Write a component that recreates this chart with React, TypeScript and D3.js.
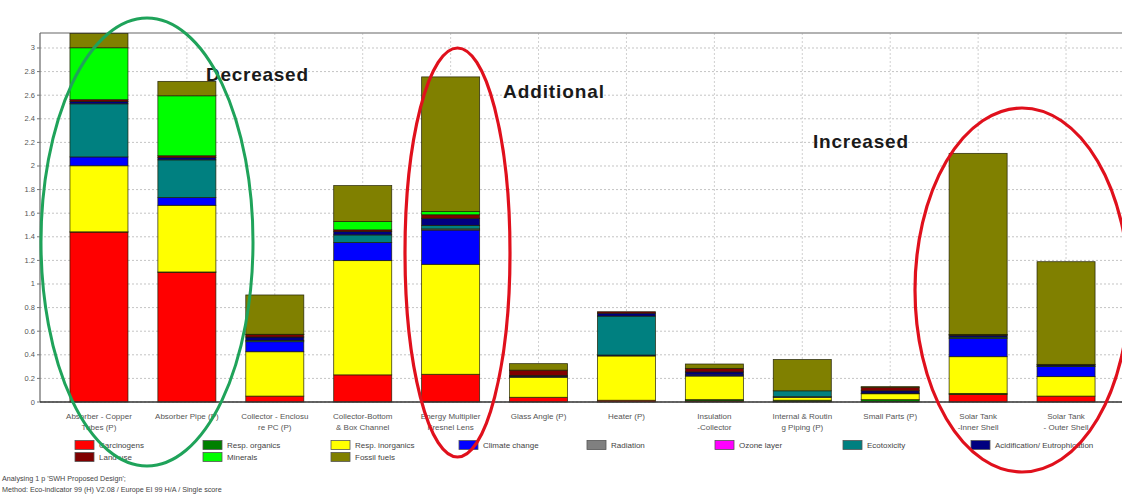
import React from "react";
import * as d3 from "d3";

const categories: string[][] = [
  ["Absorber - Copper", "Tubes (P)"],
  ["Absorber Pipe (P)"],
  ["Collector - Enclosu", "re PC (P)"],
  ["Collector-Bottom", "& Box Channel"],
  ["Energy Multiplier", "Fresnel Lens"],
  ["Glass Angle (P)"],
  ["Heater (P)"],
  ["Insulation", "-Collector"],
  ["Internal & Routin", "g Piping (P)"],
  ["Small Parts (P)"],
  ["Solar Tank", "-Inner Shell"],
  ["Solar Tank", "- Outer Shell"],
];

const seriesNames = [
  "Carcinogens",
  "Resp. organics",
  "Resp. inorganics",
  "Climate change",
  "Radiation",
  "Ozone layer",
  "Ecotoxicity",
  "Acidification/ Eutrophication",
  "Land use",
  "Minerals",
  "Fossil fuels",
];

const seriesColors = [
  "#ff0000",
  "#008000",
  "#ffff00",
  "#0000ff",
  "#808080",
  "#ff00ff",
  "#008080",
  "#000080",
  "#800000",
  "#00ff00",
  "#808000",
];

const carcinogens = [1.44, 1.1, 0.05, 0.23, 0.235, 0.04, 0.015, 0.01, 0.005, 0.005, 0.065, 0.05];
const respOrganics = [0.002, 0.002, 0, 0, 0, 0, 0, 0.01, 0.01, 0.015, 0.008, 0];
const respInorganics = [0.56, 0.565, 0.376, 0.968, 0.932, 0.17, 0.375, 0.2, 0.025, 0.05, 0.311, 0.165];
const climateChange = [0.075, 0.065, 0.085, 0.153, 0.29, 0.005, 0.008, 0.01, 0.005, 0.005, 0.156, 0.085];
const radiation = [0, 0, 0, 0, 0.01, 0, 0, 0, 0, 0, 0, 0];
const ozoneLayer = [0, 0, 0, 0, 0, 0, 0, 0, 0, 0, 0, 0];
const ecotoxicity = [0.45, 0.32, 0.01, 0.065, 0.03, 0, 0.33, 0, 0.05, 0, 0.01, 0.005];
const acidification = [0.02, 0.02, 0.03, 0.028, 0.06, 0.01, 0.025, 0.025, 0, 0.02, 0.015, 0.01];
const landUse = [0.015, 0.015, 0.02, 0.015, 0.03, 0.045, 0.012, 0.03, 0, 0.03, 0.005, 0.004];
const minerals = [0.44, 0.508, 0.003, 0.07, 0.028, 0, 0, 0, 0, 0, 0.003, 0];
const fossilFuels = [0.12, 0.122, 0.333, 0.305, 1.14, 0.055, 0, 0.037, 0.265, 0.005, 1.534, 0.87];

const yTicks = [0, 0.2, 0.4, 0.6, 0.8, 1, 1.2, 1.4, 1.6, 1.8, 2, 2.2, 2.4, 2.6, 2.8, 3];

const footer = [
  "Analysing 1 p 'SWH Proposed Design';",
  "Method: Eco-indicator 99 (H) V2.08 / Europe EI 99 H/A / Single score",
];

const W = 1122;
const H = 497;
const plotLeft = 40;
const plotTop = 33;
const plotBottom = 402;
const plotRight = 1122;

export default function App() {
  const seriesValues = [
    carcinogens, respOrganics, respInorganics, climateChange, radiation, ozoneLayer,
    ecotoxicity, acidification, landUse, minerals, fossilFuels,
  ];
  const keys = seriesNames;
  const rows = categories.map((c, i) => {
    const r: Record<string, number> = {};
    keys.forEach((k, s) => (r[k] = seriesValues[s][i]));
    return r;
  });
  const stacked = d3.stack<Record<string, number>>().keys(keys)(rows);

  const catKeys = categories.map((c) => c.join(" "));
  const x = d3.scaleBand<string>().domain(catKeys).range([55, 1110]).paddingInner(0.34).paddingOuter(0.17);
  const y = d3.scaleLinear().domain([0, 3.127]).range([plotBottom, plotTop]);

  const font = "'Liberation Sans', Arial, sans-serif";

  return (
    <svg width={W} height={H} style={{ position: "absolute", left: 0, top: 0, background: "#fff" }} fontFamily={font}>
      <rect x={0} y={0} width={W} height={H} fill="#fff" />
      {/* grid */}
      {yTicks.map((t) => (
        <line key={"g" + t} x1={plotLeft} x2={plotRight} y1={y(t)} y2={y(t)} stroke="#c4c4c4" strokeDasharray="2,2" strokeWidth={1} />
      ))}
      {catKeys.map((k) => (
        <line key={"v" + k} x1={x(k)! + x.bandwidth() / 2} x2={x(k)! + x.bandwidth() / 2} y1={plotTop} y2={plotBottom} stroke="#d0d0d0" strokeDasharray="2,2" />
      ))}
      {/* frame */}
      <line x1={plotLeft} x2={plotRight} y1={plotTop} y2={plotTop} stroke="#999" strokeWidth={1.5} />
      <line x1={plotLeft} x2={plotLeft} y1={plotTop} y2={plotBottom} stroke="#666" strokeWidth={1.2} />
      {/* y ticks */}
      {yTicks.map((t) => (
        <g key={"t" + t}>
          <line x1={plotLeft - 3} x2={plotLeft} y1={y(t)} y2={y(t)} stroke="#777" />
          <text x={plotLeft - 5} y={y(t) + 2.5} fontSize={7.5} fill="#555" textAnchor="end">
            {String(+t.toFixed(1))}
          </text>
        </g>
      ))}
      {/* bars */}
      {stacked.map((layer, s) => (
        <g key={keys[s]} fill={seriesColors[s]}>
          {layer.map((d, i) => {
            const h = y(d[0]) - y(d[1]);
            if (h <= 0) return null;
            return (
              <rect
                key={i}
                x={x(catKeys[i])}
                width={x.bandwidth()}
                y={y(d[1])}
                height={h}
                stroke="#1c1c00"
                strokeWidth={0.8}
                strokeOpacity={0.85}
              />
            );
          })}
        </g>
      ))}
      {/* baseline */}
      <line x1={plotLeft} x2={plotRight} y1={plotBottom} y2={plotBottom} stroke="#333" strokeWidth={1.5} />
      {/* x labels */}
      {categories.map((lines, i) => (
        <text key={"x" + i} x={x(catKeys[i])! + x.bandwidth() / 2} y={418.5} fontSize={8} fill="#555" textAnchor="middle">
          {lines.map((l, j) => (
            <tspan key={j} x={x(catKeys[i])! + x.bandwidth() / 2} dy={j === 0 ? 0 : 11.5}>
              {l}
            </tspan>
          ))}
        </text>
      ))}
      {/* legend */}
      {seriesNames.map((n, s) => {
        const row = s < 8 ? 0 : 1;
        const col = s < 8 ? s : s - 8;
        const lx = 75 + col * 128;
        const ly = row === 0 ? 445 : 457;
        return (
          <g key={"l" + n}>
            <rect x={lx} y={ly - 4.5} width={19} height={9} fill={seriesColors[s]} stroke="#555" strokeWidth={0.8} />
            <text x={lx + 24} y={ly + 3} fontSize={8} fill="#444">
              {n}
            </text>
          </g>
        );
      })}
      {/* footer */}
      {footer.map((f, i) => (
        <text key={"f" + i} x={2} y={481 + i * 11} fontSize={7.2} fill="#444">
          {f}
        </text>
      ))}
      {/* annotations */}
      <text x={206} y={81} fontSize={19} fontWeight="bold" fill="#1a1a1a" textLength={102} fontFamily={font}>
        Decreased
      </text>
      <text x={503} y={98} fontSize={19} fontWeight="bold" fill="#1a1a1a" textLength={101} fontFamily={font}>
        Additional
      </text>
      <text x={813} y={148} fontSize={19} fontWeight="bold" fill="#1a1a1a" textLength={95} fontFamily={font}>
        Increased
      </text>
      <ellipse cx={147} cy={242} rx={106} ry={224} fill="none" stroke="#1fa35a" strokeWidth={3} />
      <ellipse cx={457.5} cy={252.5} rx={52.5} ry={204.5} fill="none" stroke="#e0101c" strokeWidth={3.2} />
      <ellipse cx={1022} cy={290} rx={107} ry={182} fill="none" stroke="#e0101c" strokeWidth={3.2} />
    </svg>
  );
}
